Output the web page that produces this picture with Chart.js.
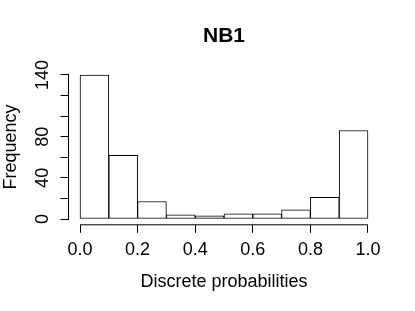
<!DOCTYPE html>
<html>
<head>
<meta charset="utf-8">
<script src="https://cdn.jsdelivr.net/npm/chart.js@4.4.1/dist/chart.umd.min.js"></script>
<style>
  html, body { margin: 0; padding: 0; background: #fff; }
  #wrap { width: 415px; height: 311px; }
</style>
</head>
<body>
<div id="wrap"><canvas id="histChart"></canvas></div>
<script>
// histogram bins (edges) and counts
const binEdges = [0.0, 0.1, 0.2, 0.3, 0.4, 0.5, 0.6, 0.7, 0.8, 0.9, 1.0];
const counts = [140, 62, 17, 4, 3, 5, 5, 9, 21, 86];
const xTicks = [0.0, 0.2, 0.4, 0.6, 0.8, 1.0];
const yTicks = [0, 20, 40, 60, 80, 100, 120, 140];
const yTickLabels = ['0', '', '40', '', '80', '', '', '140'];

Chart.defaults.font.family = '"Liberation Sans", Arial, sans-serif';
Chart.defaults.color = '#000';

var bars = counts.map(function(c, i) {
    return { x: (binEdges[i] + binEdges[i + 1]) / 2, y: c };
});

// R style axes: line only between first and last tick, rotated y labels
var rAxes = {
    id: 'rAxes',
    afterDraw: function(chart) {
        var ctx = chart.ctx,
            xs = chart.scales.x,
            ys = chart.scales.y;
        ctx.save();
        ctx.strokeStyle = '#000';
        ctx.lineWidth = 1;
        ctx.beginPath();
        ctx.moveTo(xs.getPixelForValue(xTicks[0]), xs.top);
        ctx.lineTo(xs.getPixelForValue(xTicks[xTicks.length - 1]), xs.top);
        ctx.moveTo(ys.right, ys.getPixelForValue(yTicks[0]));
        ctx.lineTo(ys.right, ys.getPixelForValue(yTicks[yTicks.length - 1]));
        ctx.stroke();

        ctx.fillStyle = '#000';
        ctx.font = '18px "Liberation Sans", Arial, sans-serif';
        ctx.textAlign = 'center';
        ctx.textBaseline = 'middle';
        yTicks.forEach(function(v, i) {
            if (!yTickLabels[i]) return;
            ctx.save();
            ctx.translate(ys.right - 25, ys.getPixelForValue(v));
            ctx.rotate(-Math.PI / 2);
            ctx.fillText(yTickLabels[i], 0, 0);
            ctx.restore();
        });
        ctx.restore();
    }
};

var ctx = document.getElementById('histChart').getContext('2d');
var myChart = new Chart(ctx, {
    type: 'bar',
    data: {
        datasets: [{
            data: bars,
            backgroundColor: '#fff',
            borderColor: '#000',
            borderWidth: 1,
            borderSkipped: false,
            barPercentage: 1,
            categoryPercentage: 1
        }]
    },
    options: {
        responsive: true,
        maintainAspectRatio: false,
        animation: false,
        layout: { padding: { left: 0, right: 35.5, top: 0, bottom: 0 } },
        plugins: {
            legend: { display: false },
            tooltip: { enabled: false },
            title: {
                display: true,
                text: 'NB1',
                fullSize: false,
                color: '#000',
                font: { size: 21, weight: 'bold' },
                padding: { top: 23.7, bottom: 20.3 }
            }
        },
        scales: {
            x: {
                type: 'linear',
                min: -0.04,
                max: 1.04,
                offset: false,
                afterBuildTicks: function(scale) {
                    scale.ticks = xTicks.map(function(v) { return { value: v }; });
                },
                afterFit: function(scale) { scale.height = 86.2; },
                ticks: {
                    font: { size: 18 },
                    padding: 6.4,
                    maxRotation: 0,
                    autoSkip: false,
                    callback: function(v) { return v.toFixed(1); }
                },
                grid: {
                    offset: false,
                    drawOnChartArea: false,
                    drawTicks: true,
                    tickLength: 8,
                    color: '#000'
                },
                border: { display: false },
                title: {
                    display: true,
                    text: 'Discrete probabilities',
                    font: { size: 18 },
                    padding: { top: 0, bottom: 18.2 }
                }
            },
            y: {
                type: 'linear',
                min: -5.6,
                max: 145.6,
                afterBuildTicks: function(scale) {
                    scale.ticks = yTicks.map(function(v) { return { value: v }; });
                },
                afterFit: function(scale) { scale.width = 68.5; },
                ticks: { display: false },
                grid: {
                    drawOnChartArea: false,
                    drawTicks: true,
                    tickLength: 8,
                    color: '#000'
                },
                border: { display: false },
                title: {
                    display: true,
                    text: 'Frequency',
                    font: { size: 18 },
                    padding: { top: 0, bottom: 0 }
                }
            }
        }
    },
    plugins: [rAxes]
});
</script>
</body>
</html>
